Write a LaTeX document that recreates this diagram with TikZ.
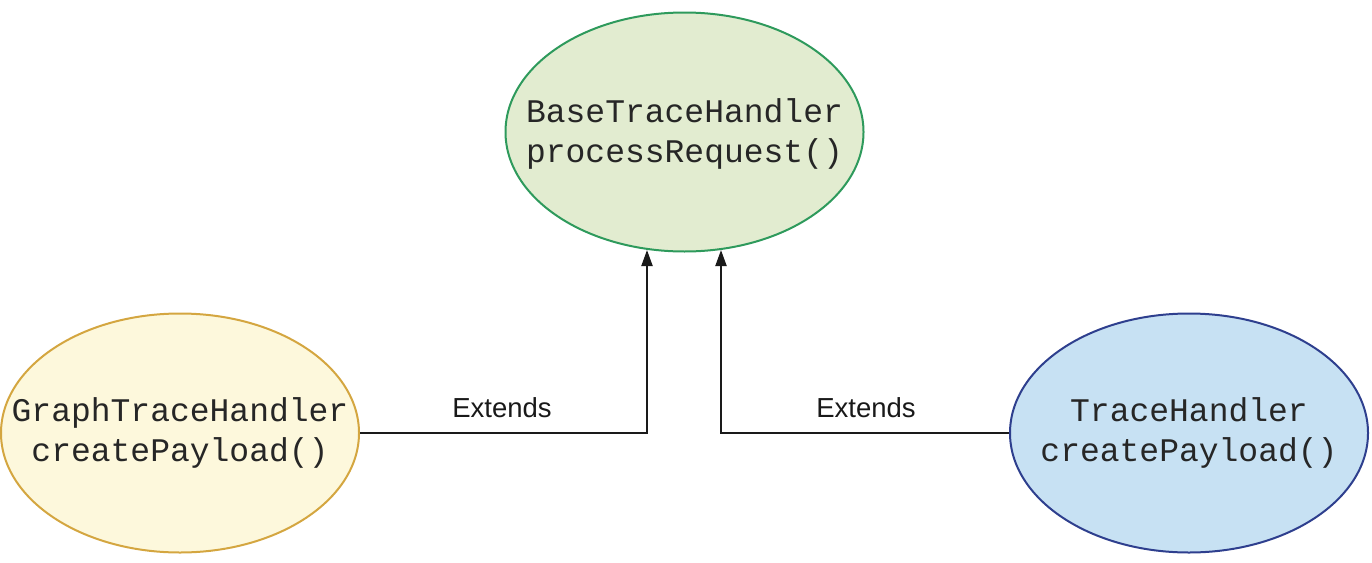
\documentclass[tikz,border=0pt]{standalone}
\usepackage{fontspec}
\setmainfont{Liberation Sans}
\newfontfamily\codefont{Liberation Mono}
\usetikzlibrary{shapes.geometric,arrows.meta}
\definecolor{gfill}{HTML}{E2ECD0}
\definecolor{gdraw}{HTML}{2E9A5C}
\definecolor{yfill}{HTML}{FDF8DC}
\definecolor{ydraw}{HTML}{D4A640}
\definecolor{bfill}{HTML}{C7E1F3}
\definecolor{bdraw}{HTML}{2E3F8E}
\definecolor{linec}{HTML}{1A1A1A}
\tikzset{
  cls/.style={ellipse, inner sep=0pt, line width=2pt, minimum width=358pt, minimum height=239pt},
  code/.style={align=center, inner sep=0pt, font=\codefont\fontsize{33}{40}\selectfont, text=black!85},
  arr/.style={line width=2pt, draw=linec, -{Triangle[length=16pt,width=11pt]}},
  lbl/.style={font=\fontsize{27.5}{30}\selectfont, text=black!90, inner sep=0pt}
}
\begin{document}
\begin{tikzpicture}[x=1pt,y=-1pt]
\useasboundingbox (0,0) rectangle (1372,562);
\node[cls, fill=gfill, draw=gdraw] (base) at (684.5,132) {};
\node[cls, fill=yfill, draw=ydraw] (graph) at (180,433) {};
\node[cls, fill=bfill, draw=bdraw] (trace) at (1189,433) {};
\node[code] (baset) at ([yshift=-2pt]base.center) {BaseTraceHandler\\processRequest()};
\node[code] (grapht) at (graph.center) {GraphTraceHandler\\createPayload()};
\node[code] (tracet) at (trace.center) {TraceHandler\\createPayload()};
\coordinate (t1) at (647,250);
\coordinate (t2) at (721,250);
\draw[arr] (graph.east) -| (t1);
\draw[arr] (trace.west) -| (t2);
\node[lbl, anchor=base] (l1) at (502,417) {Extends};
\node[lbl, anchor=base] (l2) at (866,417) {Extends};
\end{tikzpicture}
\end{document}
